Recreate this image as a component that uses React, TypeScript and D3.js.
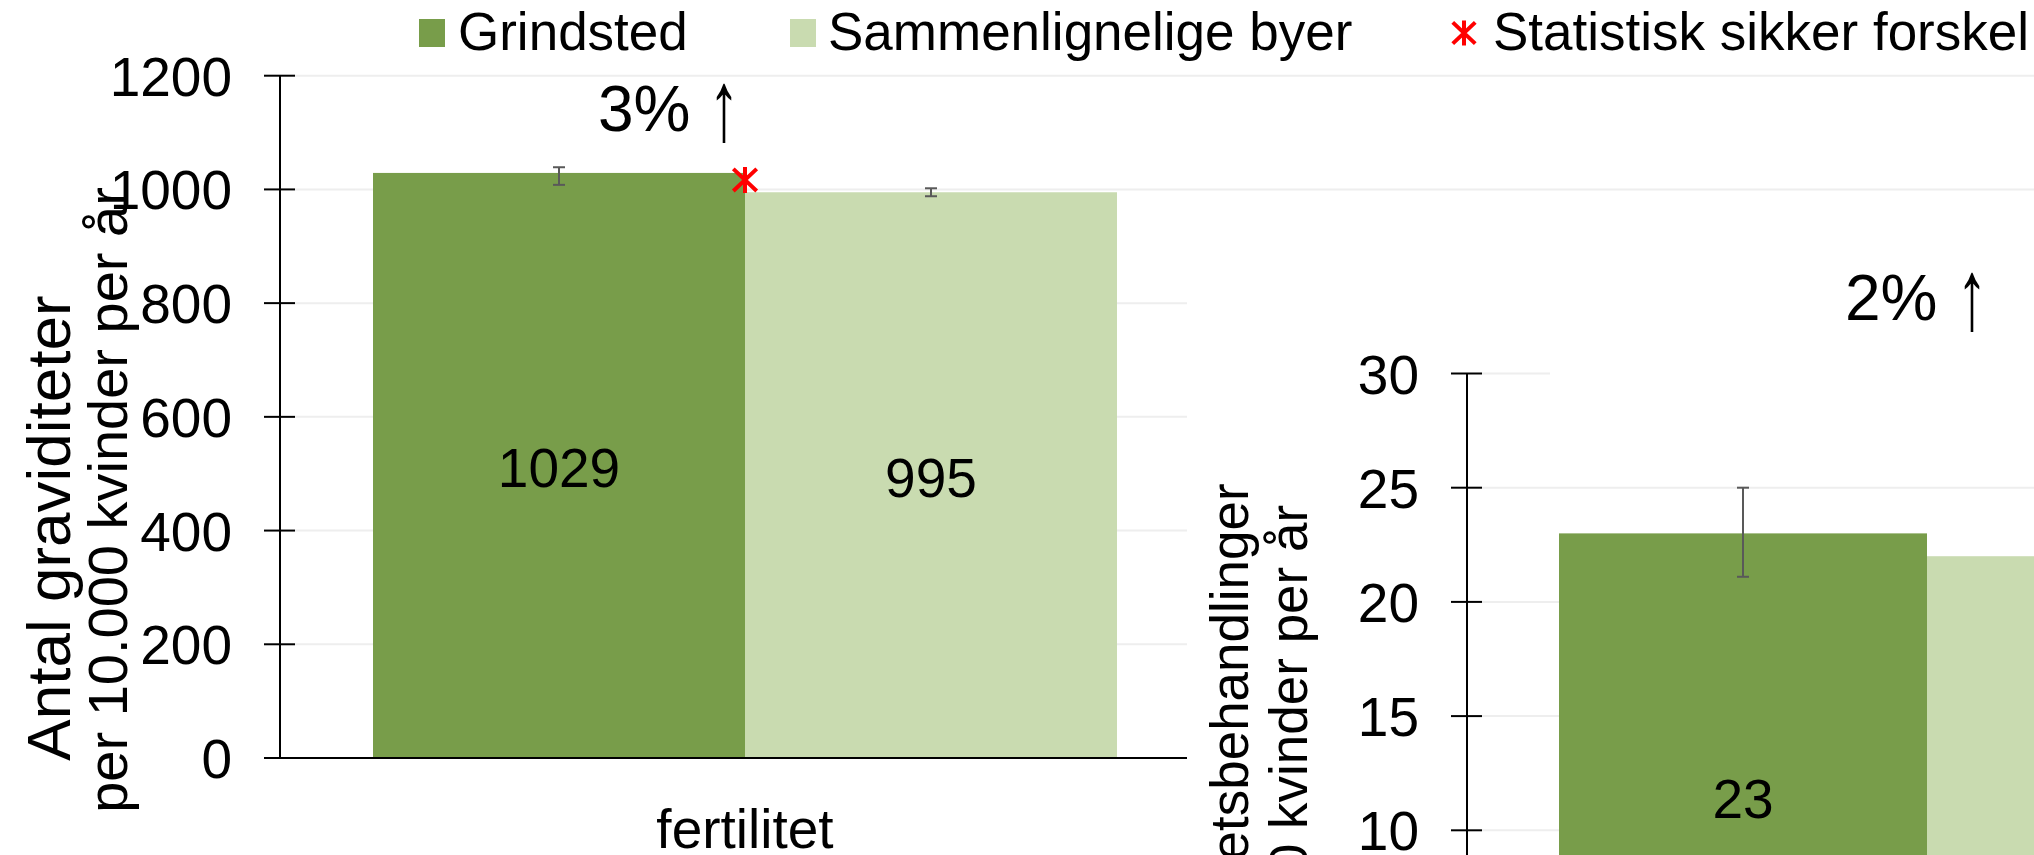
import React from 'react';
import * as d3 from 'd3';

// ---------- data ----------
const seriesNames = ['Grindsted', 'Sammenlignelige byer'];
const significanceLabel = 'Statistisk sikker forskel';
const seriesColors = ['#789d4a', '#c9dbb0'];

const fertCategory = ['fertilitet'];
const fertValues = [1029, 995];
const fertErrLow = [1008, 988];
const fertErrHigh = [1039, 1002];
const fertTicks = [0, 200, 400, 600, 800, 1000, 1200];
const fertTitle = ['Antal graviditeter', 'per 10.000 kvinder per år'];
const fertChange = ['3%', '↑'];
const fertSignificant = [true, false];

const treatCategory = ['fertilitetsbehandling'];
const treatValues = [23, 22];
const treatErrLow = [21.1, 21.6];
const treatErrHigh = [25.0, 22.4];
const treatTicks = [0, 5, 10, 15, 20, 25, 30];
const treatTitle = ['Antal fertilitetsbehandlinger', 'per 10.000 kvinder per år'];
const treatChange = ['2%', '↑'];
const treatSignificant = [false, false];

const FONT = '"Liberation Sans", Arial, Helvetica, sans-serif';
const W = 2034;
const H = 855;

function Asterisk({ cx, cy, size = 26 }: { cx: number; cy: number; size?: number }) {
  const h = size / 2;
  const d = `M${cx},${cy - h}L${cx},${cy + h}M${cx - h * 0.9},${cy - h * 0.85}L${cx + h * 0.9},${cy + h * 0.85}M${cx - h * 0.9},${cy + h * 0.85}L${cx + h * 0.9},${cy - h * 0.85}`;
  return <path d={d} stroke="#ff0000" strokeWidth={4} fill="none" />;
}

type PanelProps = {
  category: string[];
  values: number[];
  errLow: number[];
  errHigh: number[];
  ticks: number[];
  title: string[];
  titleSize: number[];
  change: string[];
  significant: boolean[];
  axisX: number;
  yTop: number;
  yBottom: number;
  plotRight: number;
  gridRight: number;
  titleX: number[];
  titleCY: number[];
  changeX: number;
  changeY: number;
  arrowX: number;
  bg?: { x: number; y: number; w: number; h: number };
  cover?: { x: number; y: number; w: number; h: number };
};

function Panel(p: PanelProps) {
  const y = d3.scaleLinear().domain([0, p.ticks[p.ticks.length - 1]]).range([p.yBottom, p.yTop]);
  const x0 = d3.scaleBand().domain(p.category).range([p.axisX, p.plotRight]).paddingInner(0.2).paddingOuter(0.1);
  const x1 = d3.scaleBand().domain(seriesNames).range([0, x0.bandwidth()]);
  const cat = p.category[0];
  const gx = x0(cat) as number;
  return (
    <g>
      {p.bg && <rect x={p.bg.x} y={p.bg.y} width={p.bg.w} height={p.bg.h} fill="#ffffff" />}
      {/* gridlines */}
      {p.ticks.filter((t) => t !== 0).map((t) => (
        <line key={'g' + t} x1={p.axisX + 15} x2={p.gridRight} y1={y(t)} y2={y(t)} stroke="#eeeeee" strokeWidth={2} />
      ))}
      {p.cover && <rect x={p.cover.x} y={p.cover.y} width={p.cover.w} height={p.cover.h} fill="#ffffff" />}
      {/* bars */}
      {p.values.map((v, i) => {
        const bx = gx + (x1(seriesNames[i]) as number);
        return (
          <rect key={'b' + i} x={bx} y={y(v)} width={x1.bandwidth()} height={y(0) - y(v)} fill={seriesColors[i]} />
        );
      })}
      {/* x axis line */}
      <line x1={p.axisX - 16} x2={p.gridRight} y1={y(0)} y2={y(0)} stroke="#000" strokeWidth={2} />
      {/* y axis */}
      <line x1={p.axisX} x2={p.axisX} y1={y(p.ticks[p.ticks.length - 1])} y2={y(0)} stroke="#000" strokeWidth={2} />
      {p.ticks.map((t) => (
        <g key={'t' + t}>
          <line x1={p.axisX - 16} x2={p.axisX + 15} y1={y(t)} y2={y(t)} stroke="#000" strokeWidth={2} />
          <text x={p.axisX - 48} y={y(t) + 20} textAnchor="end" fontSize={55} fontFamily={FONT} fill="#000">
            {t}
          </text>
        </g>
      ))}
      {/* error bars */}
      {p.values.map((v, i) => {
        const cx = gx + (x1(seriesNames[i]) as number) + x1.bandwidth() / 2;
        const lo = y(p.errLow[i]);
        const hi = y(p.errHigh[i]);
        return (
          <g key={'e' + i} stroke="#595959" strokeWidth={2}>
            <line x1={cx} x2={cx} y1={lo} y2={hi} />
            <line x1={cx - 6} x2={cx + 6} y1={lo} y2={lo} />
            <line x1={cx - 6} x2={cx + 6} y1={hi} y2={hi} />
          </g>
        );
      })}
      {/* significance markers */}
      {p.values.map((v, i) =>
        p.significant[i] ? (
          <Asterisk key={'s' + i} cx={gx + (x1(seriesNames[i]) as number) + x1.bandwidth()} cy={y(v) + 7} />
        ) : null
      )}
      {/* data labels */}
      {p.values.map((v, i) => {
        const cx = gx + (x1(seriesNames[i]) as number) + x1.bandwidth() / 2;
        return (
          <text key={'l' + i} x={cx} y={(y(v) + y(0)) / 2 + 22} textAnchor="middle" fontSize={55} fontFamily={FONT} fill="#000">
            {v}
          </text>
        );
      })}
      {/* category label */}
      <text x={gx + x0.bandwidth() / 2} y={y(0) + 90} textAnchor="middle" fontSize={55} fontFamily={FONT} fill="#000">
        {cat}
      </text>
      {/* axis title */}
      {p.title.map((line, i) => (
        <text
          key={'ti' + i}
          transform={`translate(${p.titleX[i]},${p.titleCY[i]}) rotate(-90)`}
          textAnchor="middle"
          fontSize={p.titleSize[i]}
          fontFamily={FONT}
          fill="#000"
        >
          {line}
        </text>
      ))}
      {/* change annotation */}
      <text x={p.changeX} y={p.changeY} fontSize={64} fontFamily={FONT} fill="#000">
        {p.change[0]}
      </text>
      <text
        transform={`translate(${p.arrowX},${p.changeY + 9}) scale(0.62,1)`}
        textAnchor="middle"
        fontSize={100}
        fontFamily={FONT}
        fill="#000"
      >
        {p.change[1]}
      </text>
    </g>
  );
}

export default function App() {
  const legendX = [419, 790];
  const legendTextX = [458, 828];
  return (
    <svg
      width={W}
      height={H}
      viewBox={`0 0 ${W} ${H}`}
      style={{ position: 'absolute', left: 0, top: 0, display: 'block', background: '#fff' }}
    >
      <rect x={0} y={0} width={W} height={H} fill="#ffffff" />
      <Panel
        category={fertCategory}
        values={fertValues}
        errLow={fertErrLow}
        errHigh={fertErrHigh}
        ticks={fertTicks}
        title={fertTitle}
        titleSize={[62, 56]}
        change={fertChange}
        significant={fertSignificant}
        axisX={280}
        yTop={75.7}
        yBottom={758}
        plotRight={1210}
        gridRight={W}
        titleX={[70, 127]}
        titleCY={[528, 500]}
        changeX={598}
        changeY={131}
        arrowX={724}
      />
      <Panel
        category={treatCategory}
        values={treatValues}
        errLow={treatErrLow}
        errHigh={treatErrHigh}
        ticks={treatTicks}
        title={treatTitle}
        titleSize={[53, 53]}
        change={treatChange}
        significant={treatSignificant}
        axisX={1467}
        yTop={373.5}
        yBottom={1058.7}
        plotRight={2387}
        gridRight={2400}
        titleX={[1248, 1307]}
        titleCY={[803, 801]}
        changeX={1845}
        changeY={320}
        arrowX={1972}
        bg={{ x: 1187, y: 240, w: W - 1187, h: H - 240 }}
        cover={{ x: 1550, y: 250, w: W - 1550, h: 130 }}
      />
      {/* legend */}
      {seriesNames.map((s, i) => (
        <g key={'lg' + i}>
          <rect x={legendX[i]} y={19} width={26} height={28} fill={seriesColors[i]} />
          <text x={legendTextX[i]} y={50} fontSize={53} fontFamily={FONT} fill="#000">
            {s}
          </text>
        </g>
      ))}
      <Asterisk cx={1464} cy={33} size={25} />
      <text x={1493} y={50} fontSize={53} fontFamily={FONT} fill="#000">
        {significanceLabel}
      </text>
    </svg>
  );
}
